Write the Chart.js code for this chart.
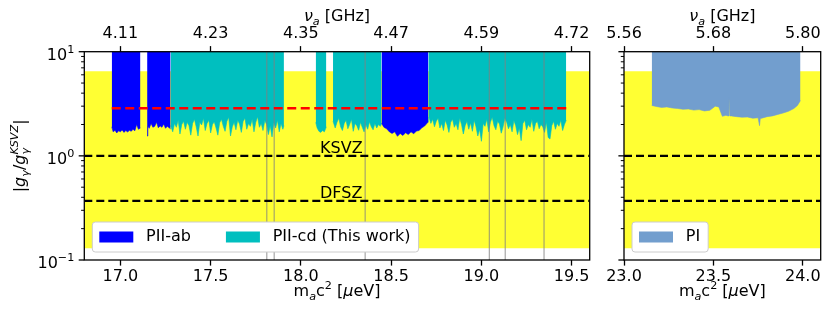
<!DOCTYPE html>
<html>
<head>
<meta charset="utf-8">
<script src="https://cdn.jsdelivr.net/npm/chart.js@4.4.0/dist/chart.umd.min.js"></script>
<style>
  html, body { margin: 0; padding: 0; background: #fff; }
  #wrap { position: relative; width: 830px; height: 318px; }
  canvas { position: absolute; top: 0; }
  #leftChart { left: 0; }
  #rightChart { left: 600px; }
</style>
</head>
<body>
<div id="wrap">
  <canvas id="leftChart" width="600" height="318"></canvas>
  <canvas id="rightChart" width="230" height="318"></canvas>
</div>
<script>
// --- axes ---
const massRangeLeft = [16.8, 19.6];
const massRangeRight = [23.0, 24.1];
const massTicksLeft = [17.0, 17.5, 18.0, 18.5, 19.0, 19.5];
const freqLabelsLeft = ['4.11', '4.23', '4.35', '4.47', '4.59', '4.72'];
const massTicksRight = [23.0, 23.5, 24.0];
const freqLabelsRight = ['5.56', '5.68', '5.80'];
const couplingRange = [0.1, 10];
const couplingTicks = [0.1, 1, 10];
const couplingTickExp = ['\u22121', '0', '1'];

// --- reference levels ---
const ksvzLevel = 1.0;
const dfszLevel = 0.37;
const bandLimits = [0.13, 6.5];
const redLineLevel = 2.86;
const redLineMass = [16.952, 19.47];
const greyLineMass = [17.811, 17.852, 18.356, 19.044, 19.132, 19.347];

// --- PII-ab exclusion (lower edge) ---
const piiAbMassA = [16.952, 16.96, 16.97, 16.98, 16.99, 17.00, 17.01, 17.02, 17.03, 17.04, 17.05, 17.06, 17.07, 17.08, 17.09, 17.10, 17.111];
const piiAbLimitA = [1.90, 1.70, 1.76, 1.66, 1.74, 1.70, 1.77, 1.68, 1.75, 1.69, 1.76, 1.72, 1.80, 1.74, 2.00, 1.80, 1.85];
const piiAbMassB = [17.148, 17.152, 17.16, 17.17, 17.18, 17.19, 17.20, 17.21, 17.22, 17.23, 17.24, 17.25, 17.26, 17.27, 17.278];
const piiAbLimitB = [1.55, 1.92, 1.84, 2.05, 1.88, 1.92, 2.10, 1.86, 1.94, 1.88, 2.02, 1.84, 1.92, 1.86, 1.82];
const piiAbMassC = [18.447, 18.46, 18.475, 18.49, 18.505, 18.52, 18.535, 18.55, 18.565, 18.58, 18.595, 18.61, 18.625, 18.64, 18.655, 18.67, 18.685, 18.706];
const piiAbLimitC = [2.05, 1.88, 1.82, 1.70, 1.64, 1.70, 1.54, 1.64, 1.57, 1.67, 1.60, 1.70, 1.63, 1.73, 1.75, 1.86, 1.93, 2.12];

// --- PII-cd exclusion (lower edge) ---
const piiCdMassA = [17.278, 17.29, 17.30, 17.31, 17.32, 17.33, 17.34, 17.35, 17.36, 17.37, 17.38, 17.39, 17.40, 17.41, 17.42, 17.43,
  17.44, 17.45, 17.46, 17.47, 17.48, 17.49, 17.50, 17.51, 17.52, 17.53, 17.54, 17.55, 17.56, 17.57, 17.58, 17.59,
  17.60, 17.61, 17.62, 17.63, 17.64, 17.65, 17.66, 17.67, 17.68, 17.69, 17.70, 17.71, 17.72, 17.73, 17.74, 17.75,
  17.76, 17.77, 17.78, 17.79, 17.80, 17.81, 17.82, 17.83, 17.84, 17.85, 17.86, 17.87, 17.88, 17.89, 17.90, 17.906];
const piiCdLimitA = [1.95, 1.70, 2.05, 1.88, 2.20, 1.62, 2.00, 2.15, 1.80, 2.10, 1.95, 1.58, 2.05, 2.25, 1.90, 1.55,
  2.10, 1.98, 2.30, 1.75, 2.05, 2.20, 1.66, 2.00, 2.12, 1.85, 1.58, 2.08, 2.25, 1.92, 1.72, 2.15,
  2.35, 1.55, 1.90, 2.10, 1.78, 2.20, 2.02, 1.68, 2.15, 2.30, 1.80, 2.05, 1.92, 2.25, 1.70, 2.10,
  2.38, 1.88, 2.05, 1.75, 2.18, 2.00, 1.60, 1.95, 1.52, 2.08, 1.85, 2.20, 1.70, 2.05, 1.80, 1.95];
const piiCdMassB = [18.082, 18.09, 18.10, 18.11, 18.12, 18.13, 18.141];
const piiCdLimitB = [2.10, 1.85, 1.72, 1.68, 1.75, 1.70, 1.90];
const piiCdMassC = [18.178, 18.19, 18.20, 18.21, 18.22, 18.23, 18.24, 18.25, 18.26, 18.27, 18.28, 18.29, 18.30, 18.31,
  18.32, 18.33, 18.34, 18.35, 18.36, 18.37, 18.38, 18.39, 18.40, 18.41, 18.42, 18.43, 18.44, 18.447];
const piiCdLimitC = [2.15, 1.85, 2.10, 2.30, 1.90, 1.75, 2.05, 2.20, 1.82, 2.00, 2.25, 1.72, 2.05, 1.95,
  1.76, 2.10, 1.88, 1.70, 2.00, 1.80, 2.12, 1.90, 1.78, 2.05, 1.85, 2.00, 1.92, 2.05];
const piiCdMassD = [18.706, 18.71, 18.72, 18.73, 18.74, 18.75, 18.76, 18.77, 18.78, 18.79, 18.80, 18.81, 18.82, 18.83, 18.84, 18.85,
  18.86, 18.87, 18.88, 18.89, 18.90, 18.91, 18.92, 18.93, 18.94, 18.95, 18.96, 18.97, 18.98, 18.99, 19.00, 19.01,
  19.02, 19.03, 19.04, 19.05, 19.06, 19.07, 19.08, 19.09, 19.10, 19.11, 19.12, 19.13, 19.14, 19.15, 19.16, 19.17,
  19.18, 19.19, 19.20, 19.21, 19.22, 19.23, 19.24, 19.25, 19.26, 19.27, 19.28, 19.29, 19.30, 19.31, 19.32, 19.33,
  19.34, 19.35, 19.36, 19.37, 19.38, 19.39, 19.40, 19.41, 19.42, 19.43, 19.44, 19.45, 19.46, 19.47];
const piiCdLimitD = [2.10, 2.35, 2.05, 2.25, 1.90, 2.15, 2.30, 1.85, 2.05, 1.75, 2.20, 1.98, 1.68, 2.10, 2.25, 1.88,
  2.05, 1.78, 2.30, 2.00, 1.62, 1.95, 2.15, 1.80, 2.08, 1.72, 2.20, 1.90, 1.55, 1.80, 1.38, 2.05,
  1.92, 2.25, 1.70, 2.10, 2.35, 1.95, 1.78, 2.15, 2.02, 1.65, 1.90, 2.30, 2.10, 1.82, 2.00, 1.70,
  2.18, 1.95, 1.60, 1.85, 1.40, 2.05, 2.20, 1.78, 2.00, 1.88, 2.25, 1.72, 2.05, 2.15, 1.82, 2.00,
  1.90, 1.68, 2.10, 1.50, 1.45, 1.95, 2.15, 1.80, 2.05, 1.92, 2.20, 1.75, 2.00, 2.20];

// --- PI exclusion (lower edge) ---
const piMass = [23.155, 23.18, 23.21, 23.24, 23.27, 23.30, 23.33, 23.36, 23.39, 23.42, 23.45, 23.48, 23.51, 23.53, 23.55, 23.57,
  23.582, 23.587, 23.592, 23.60, 23.63, 23.66, 23.69, 23.72, 23.75, 23.758, 23.762, 23.77, 23.80, 23.83, 23.86, 23.89, 23.92,
  23.95, 23.97, 23.987];
const piLimit = [3.05, 2.98, 2.92, 2.95, 2.88, 2.85, 2.80, 2.82, 2.75, 2.78, 2.70, 2.74, 3.00, 2.95, 2.40, 2.45,
  2.42, 3.60, 2.42, 2.42, 2.38, 2.35, 2.36, 2.30, 2.32, 1.95, 2.28, 2.30, 2.38, 2.42, 2.50, 2.58, 2.68,
  2.85, 3.05, 3.40];

const FONT_FAMILY = "'DejaVu Sans', sans-serif";
const YELLOW = '#FFFF33';
const BLUE = '#0000FF';
const CYAN = '#00BFBF';
const PI_BLUE = '#729ECE';

Chart.defaults.font.family = FONT_FAMILY;
Chart.defaults.font.size = 16;
Chart.defaults.color = '#000';

// --- petits outils de texte (indices / exposants) ---
function setFont(ctx, size, italic) {
  ctx.font = (italic ? 'italic ' : '') + size + 'px ' + FONT_FAMILY;
}
function richWidth(ctx, parts) {
  let w = 0;
  parts.forEach(p => {
    if (p.stack) {
      setFont(ctx, 11.2, true);
      w += Math.max(ctx.measureText(p.stack[0]).width, ctx.measureText(p.stack[1]).width);
    } else {
      setFont(ctx, (p.sub || p.sup) ? 11.2 : 16, p.it);
      w += ctx.measureText(p.t).width;
    }
  });
  return w;
}
function drawRich(ctx, parts, x, y, align) {
  const w = richWidth(ctx, parts);
  if (align === 'center') x -= w / 2;
  if (align === 'right') x -= w;
  ctx.textAlign = 'left';
  ctx.textBaseline = 'alphabetic';
  ctx.fillStyle = '#000';
  parts.forEach(p => {
    if (p.stack) {
      setFont(ctx, 11.2, true);
      ctx.fillText(p.stack[0], x, y + 4);
      ctx.fillText(p.stack[1], x, y - 7);
      x += Math.max(ctx.measureText(p.stack[0]).width, ctx.measureText(p.stack[1]).width);
    } else {
      setFont(ctx, (p.sub || p.sup) ? 11.2 : 16, p.it);
      const dy = p.sub ? 4 : (p.sup ? -7 : 0);
      ctx.fillText(p.t, x, y + dy);
      x += ctx.measureText(p.t).width;
    }
  });
}

const massTitle = [{ t: 'm' }, { t: 'a', sub: true, it: true }, { t: 'c' }, { t: '2', sup: true }, { t: ' [' }, { t: '\u03bc', it: true }, { t: 'eV]' }];
const freqTitle = [{ t: '\u03bd', it: true }, { t: 'a', sub: true, it: true }, { t: ' [GHz]' }];
const couplingTitle = [{ t: '|' }, { t: 'g', it: true }, { t: '\u03b3', sub: true, it: true }, { t: '/' }, { t: 'g', it: true }, { stack: ['\u03b3', 'KSVZ'] }, { t: '|' }];

// --- jeux de données ---
function toPoints(mass, values) {
  return mass.map((m, i) => ({ x: m, y: values[i] }));
}
function regionSet(label, mass, limit, color) {
  return { label, data: toPoints(mass, limit), fill: 'end', backgroundColor: color, borderColor: color,
    borderWidth: 0.6, pointRadius: 0, order: 5 };
}
function levelSet(label, level, range, color, dash, width, order) {
  return { label, data: [{ x: range[0], y: level }, { x: range[1], y: level }], borderColor: color,
    borderDash: dash, borderWidth: width, pointRadius: 0, fill: false, order };
}
function bandSet(range) {
  return { label: 'band', data: [{ x: range[0], y: bandLimits[1] }, { x: range[1], y: bandLimits[1] }],
    fill: { value: bandLimits[0] }, backgroundColor: YELLOW, borderWidth: 0, pointRadius: 0, order: 10 };
}
function greySet(m) {
  return { label: 'grey', data: [{ x: m, y: couplingRange[0] }, { x: m, y: couplingRange[1] }],
    borderColor: 'rgba(128,128,128,0.7)', borderWidth: 1.2, pointRadius: 0, fill: false, order: 3 };
}

function scalesFor(range, massTicks, freqLabels, yWidth) {
  const tickFont = { family: FONT_FAMILY, size: 16 };
  const tickGrid = { display: true, drawOnChartArea: false, drawTicks: true, tickLength: 5.6, tickWidth: 1.3, tickColor: '#000' };
  return {
    x: {
      type: 'linear', position: 'bottom', min: range[0], max: range[1],
      afterBuildTicks: s => { s.ticks = massTicks.map(v => ({ value: v })); },
      afterFit: s => { s.height = 58; },
      ticks: { font: tickFont, color: '#000', padding: 2, maxRotation: 0, autoSkip: false, callback: v => v.toFixed(1) },
      grid: tickGrid, border: { display: false }
    },
    xTop: {
      type: 'linear', position: 'top', min: range[0], max: range[1],
      afterBuildTicks: s => { s.ticks = massTicks.map(v => ({ value: v })); },
      afterFit: s => { s.height = 51.7; },
      ticks: { font: tickFont, color: '#000', padding: 3, maxRotation: 0, autoSkip: false, callback: (v, i) => freqLabels[i] },
      grid: tickGrid, border: { display: false }
    },
    y: {
      type: 'logarithmic', min: couplingRange[0], max: couplingRange[1],
      afterFit: s => { s.width = yWidth; },
      ticks: { display: false }, grid: { display: false }, border: { display: false }
    }
  };
}

// --- plugins: cadre, axe log, titres, légende, étiquettes ---
const logAxisPlugin = {
  id: 'logAxis',
  afterDatasetsDraw(chart, args, opts) {
    const { ctx, chartArea: a } = chart;
    const y = chart.scales.y;
    ctx.save();
    ctx.strokeStyle = '#000';
    ctx.lineWidth = 1;
    [0.1, 1].forEach(d => {
      for (let k = 2; k <= 9; k++) {
        const py = y.getPixelForValue(k * d);
        ctx.beginPath(); ctx.moveTo(a.left - 3.2, py); ctx.lineTo(a.left, py); ctx.stroke();
      }
    });
    ctx.lineWidth = 1.3;
    couplingTicks.forEach((v, i) => {
      const py = y.getPixelForValue(v);
      ctx.beginPath(); ctx.moveTo(a.left - 5.6, py); ctx.lineTo(a.left, py); ctx.stroke();
      if (opts.labels) {
        drawRich(ctx, [{ t: '10' }, { t: couplingTickExp[i], sup: true }], a.left - 10, py + 8.4, 'right');
      }
    });
    ctx.lineWidth = 1.3;
    ctx.strokeRect(a.left, a.top, a.right - a.left, a.bottom - a.top);
    ctx.restore();
  }
};

const titlesPlugin = {
  id: 'titles',
  afterDraw(chart, args, opts) {
    const { ctx, chartArea: a } = chart;
    const cx = (a.left + a.right) / 2;
    ctx.save();
    drawRich(ctx, massTitle, cx, 296, 'center');
    drawRich(ctx, freqTitle, cx, 21, 'center');
    if (opts.yTitle) {
      ctx.translate(25, (a.top + a.bottom) / 2);
      ctx.rotate(-Math.PI / 2);
      drawRich(ctx, couplingTitle, 0, 0, 'center');
    }
    ctx.restore();
  }
};

const boxLegendPlugin = {
  id: 'boxLegend',
  afterDraw(chart, args, opts) {
    const { ctx, chartArea: a } = chart;
    const items = opts.items || [];
    ctx.save();
    setFont(ctx, 16, false);
    let w = 7;
    items.forEach((it, i) => {
      w += 34 + 12.8 + ctx.measureText(it.label).width + (i < items.length - 1 ? 35 : 0);
    });
    w += 8;
    const h = 30, x0 = a.left + 8, y0 = a.bottom - 8 - h;
    ctx.beginPath();
    ctx.roundRect(x0, y0, w, h, 3);
    ctx.fillStyle = '#ffffff';
    ctx.fill();
    ctx.strokeStyle = '#cccccc';
    ctx.lineWidth = 1;
    ctx.stroke();
    let x = x0 + 7;
    const cy = y0 + h / 2;
    items.forEach(it => {
      ctx.fillStyle = it.color;
      ctx.fillRect(x, cy - 5.5, 34, 11);
      x += 34 + 12.8;
      ctx.fillStyle = '#000';
      ctx.textAlign = 'left';
      ctx.textBaseline = 'middle';
      ctx.fillText(it.label, x, cy);
      x += ctx.measureText(it.label).width + 35;
    });
    ctx.restore();
  }
};

const modelLabelsPlugin = {
  id: 'modelLabels',
  afterDatasetsDraw(chart) {
    const { ctx } = chart;
    const x = chart.scales.x.getPixelForValue(18.106);
    const y = chart.scales.y;
    ctx.save();
    setFont(ctx, 16, false);
    ctx.fillStyle = '#000';
    ctx.textAlign = 'left';
    ctx.textBaseline = 'alphabetic';
    ctx.fillText('KSVZ', x, y.getPixelForValue(ksvzLevel) - 2.5);
    ctx.fillText('DFSZ', x, y.getPixelForValue(dfszLevel) - 2.7);
    ctx.restore();
  }
};

// --- panneau gauche : PII ---
const leftData = [
  bandSet(massRangeLeft),
  regionSet('PII-ab', piiAbMassA, piiAbLimitA, BLUE),
  regionSet('PII-ab', piiAbMassB, piiAbLimitB, BLUE),
  regionSet('PII-ab', piiAbMassC, piiAbLimitC, BLUE),
  regionSet('PII-cd (This work)', piiCdMassA, piiCdLimitA, CYAN),
  regionSet('PII-cd (This work)', piiCdMassB, piiCdLimitB, CYAN),
  regionSet('PII-cd (This work)', piiCdMassC, piiCdLimitC, CYAN),
  regionSet('PII-cd (This work)', piiCdMassD, piiCdLimitD, CYAN),
  ...greyLineMass.map(greySet),
  levelSet('KSVZ', ksvzLevel, massRangeLeft, '#000', [8, 4], 2.2, 2),
  levelSet('DFSZ', dfszLevel, massRangeLeft, '#000', [8, 4], 2.2, 2),
  levelSet('red', redLineLevel, redLineMass, '#FF0000', [9, 4.5], 2.6, 1)
];

new Chart(document.getElementById('leftChart'), {
  type: 'line',
  data: { datasets: leftData },
  options: {
    responsive: false, animation: false, devicePixelRatio: 1, events: [],
    layout: { padding: { left: 0, right: 10.3, top: 0, bottom: 0 } },
    scales: scalesFor(massRangeLeft, massTicksLeft, freqLabelsLeft, 84.3),
    plugins: {
      legend: { display: false }, tooltip: { enabled: false },
      logAxis: { labels: true },
      titles: { yTitle: true },
      boxLegend: { items: [{ label: 'PII-ab', color: BLUE }, { label: 'PII-cd (This work)', color: CYAN }] }
    }
  },
  plugins: [modelLabelsPlugin, logAxisPlugin, titlesPlugin, boxLegendPlugin]
});

// --- panneau droit : PI ---
const rightData = [
  bandSet(massRangeRight),
  regionSet('PI', piMass, piLimit, PI_BLUE),
  levelSet('KSVZ', ksvzLevel, massRangeRight, '#000', [8, 4], 2.2, 2),
  levelSet('DFSZ', dfszLevel, massRangeRight, '#000', [8, 4], 2.2, 2)
];

new Chart(document.getElementById('rightChart'), {
  type: 'line',
  data: { datasets: rightData },
  options: {
    responsive: false, animation: false, devicePixelRatio: 1, events: [],
    layout: { padding: { left: 0, right: 9.3, top: 0, bottom: 0 } },
    scales: scalesFor(massRangeRight, massTicksRight, freqLabelsRight, 24),
    plugins: {
      legend: { display: false }, tooltip: { enabled: false },
      logAxis: { labels: false },
      titles: { yTitle: false },
      boxLegend: { items: [{ label: 'PI', color: PI_BLUE }] }
    }
  },
  plugins: [logAxisPlugin, titlesPlugin, boxLegendPlugin]
});
</script>
</body>
</html>
